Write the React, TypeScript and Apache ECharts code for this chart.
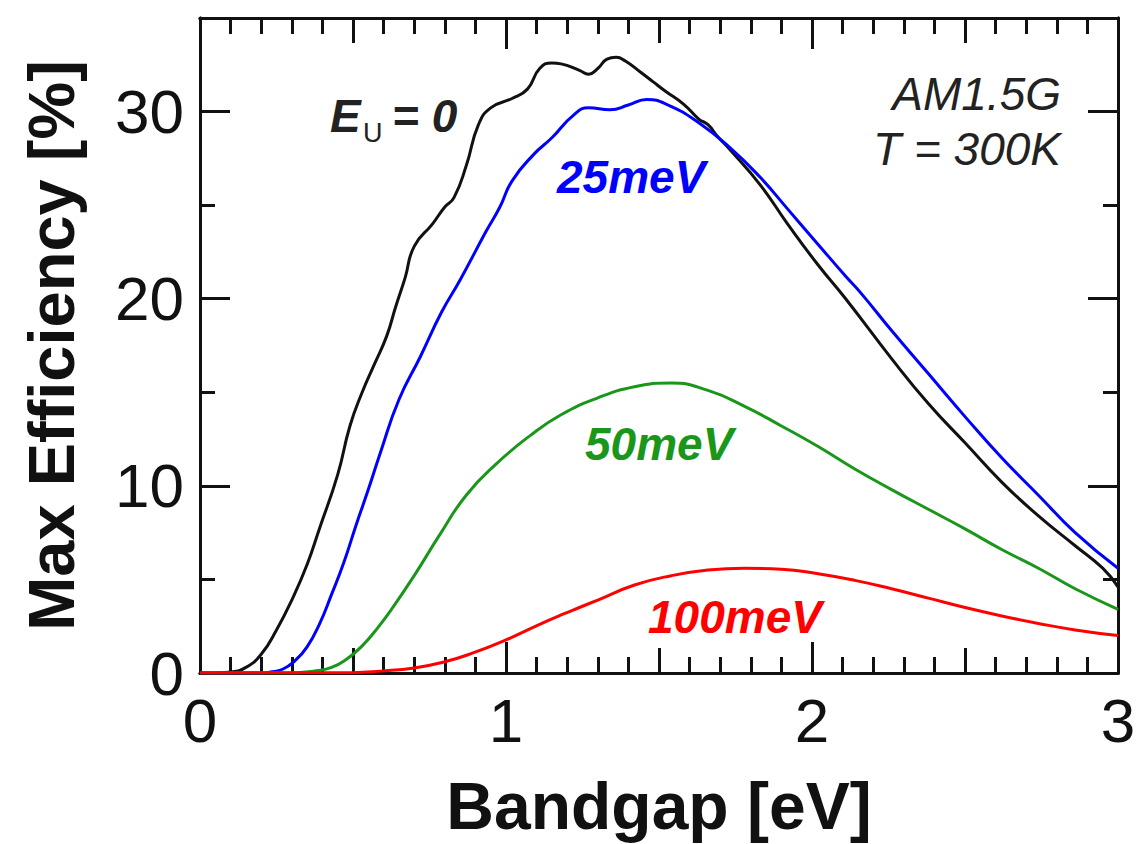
import React, { useEffect, useRef } from "react";
import * as echarts from "echarts";

// Bandgap [eV] and max efficiency [%] for each Urbach energy
const eu0Bandgap = [0, 0.05, 0.1, 0.15, 0.2, 0.25, 0.3, 0.35, 0.39, 0.45, 0.49, 0.53, 0.57, 0.61, 0.64, 0.67, 0.7, 0.76, 0.8, 0.83, 0.87, 0.91, 0.95, 1.02, 1.07, 1.11, 1.15, 1.18, 1.24, 1.27, 1.3, 1.33, 1.36, 1.39, 1.44, 1.48, 1.52, 1.58, 1.63, 1.66, 1.69, 1.73, 1.83, 1.92, 2.02, 2.11, 2.26, 2.38, 2.5, 2.62, 2.74, 2.86, 2.95, 3.0];
const eu0Eff = [0, 0, 0.05, 0.3, 1.0, 2.3, 3.9, 5.8, 7.7, 10.6, 13.2, 15.0, 16.5, 18.0, 19.6, 21.1, 22.8, 24.0, 24.9, 25.4, 27.1, 29.3, 30.2, 30.7, 31.2, 32.3, 32.6, 32.55, 32.2, 32.0, 32.3, 32.8, 32.9, 32.7, 32.1, 31.6, 31.1, 30.4, 29.6, 29.3, 28.7, 28.0, 26.1, 24.0, 21.8, 20.0, 16.8, 14.4, 12.3, 10.2, 8.4, 6.8, 5.6, 4.6];

const eu25Bandgap = [0, 0.2, 0.23, 0.27, 0.31, 0.35, 0.39, 0.43, 0.47, 0.51, 0.55, 0.59, 0.65, 0.72, 0.79, 0.85, 0.935, 0.98, 1.02, 1.09, 1.15, 1.22, 1.27, 1.34, 1.4, 1.46, 1.53, 1.63, 1.73, 1.83, 1.92, 2.02, 2.11, 2.16, 2.26, 2.38, 2.5, 2.62, 2.74, 2.86, 3.0];
const eu25Eff = [0, 0, 0.05, 0.2, 0.65, 1.4, 2.6, 4.2, 5.9, 7.9, 9.8, 11.8, 14.6, 16.9, 19.3, 21.0, 23.6, 24.9, 26.3, 27.7, 28.6, 29.8, 30.2, 30.1, 30.35, 30.65, 30.35, 29.4, 28.1, 26.5, 24.8, 22.9, 21.2, 20.3, 18.3, 16.0, 13.7, 11.5, 9.5, 7.5, 5.6];

const eu50Bandgap = [0, 0.3, 0.37, 0.43, 0.48, 0.53, 0.58, 0.63, 0.7, 0.78, 0.87, 0.97, 1.08, 1.18, 1.3, 1.42, 1.54, 1.66, 1.78, 1.9, 2.02, 2.14, 2.26, 2.38, 2.5, 2.62, 2.74, 2.86, 3.0];
const eu50Eff = [0, 0, 0.1, 0.3, 0.75, 1.45, 2.4, 3.5, 5.2, 7.3, 9.5, 11.2, 12.7, 13.8, 14.7, 15.3, 15.5, 15.1, 14.25, 13.2, 12.1, 10.9, 9.8, 8.75, 7.7, 6.6, 5.6, 4.5, 3.4];

const eu100Bandgap = [0, 0.5, 0.59, 0.7, 0.8, 0.89, 1.0, 1.11, 1.18, 1.24, 1.3, 1.42, 1.54, 1.66, 1.78, 1.9, 2.02, 2.14, 2.26, 2.38, 2.5, 2.62, 2.74, 2.86, 3.0];
const eu100Eff = [0, 0.02, 0.1, 0.27, 0.6, 1.06, 1.77, 2.6, 3.1, 3.5, 3.9, 4.7, 5.2, 5.5, 5.6, 5.55, 5.3, 4.95, 4.5, 4.0, 3.5, 3.05, 2.65, 2.3, 2.0];

const xTickLabels = ["0", "1", "2", "3"];
const yTickLabels = ["0", "10", "20", "30"];

const FONT = "'Liberation Sans', Arial, Helvetica, sans-serif";
const INK = "#111111";
const COLORS = { eu0: "#111111", eu25: "#0000ff", eu50: "#1a961a", eu100: "#ff0000" };

const zip = (xs: number[], ys: number[]) => xs.map((x, i) => [x, ys[i]]);

function xAxisDef(position: "bottom" | "top", interval: number, tickLen: number, labels: boolean, minor: boolean) {
  return {
    type: "value",
    position,
    min: 0,
    max: 3,
    interval,
    axisLine: { show: true, onZero: false, lineStyle: { color: INK, width: 3 } },
    axisTick: { show: true, inside: true, length: tickLen, lineStyle: { color: INK, width: 3 } },
    minorTick: { show: minor, splitNumber: 10, length: 16, lineStyle: { color: INK, width: 3 } },
    splitLine: { show: false },
    minorSplitLine: { show: false },
    axisLabel: {
      show: labels,
      margin: 16,
      fontSize: 62,
      fontFamily: FONT,
      color: INK,
      formatter: (v: number) => (Number.isInteger(v) ? xTickLabels[v] ?? "" : ""),
    },
  };
}

function yAxisDef(position: "left" | "right", interval: number, tickLen: number, labels: boolean) {
  return {
    type: "value",
    position,
    min: 0,
    max: 35,
    interval,
    axisLine: { show: true, onZero: false, lineStyle: { color: INK, width: 3 } },
    axisTick: { show: true, inside: true, length: tickLen, lineStyle: { color: INK, width: 3 } },
    splitLine: { show: false },
    axisLabel: {
      show: labels,
      margin: 16,
      fontSize: 62,
      fontFamily: FONT,
      color: INK,
      formatter: (v: number) => (v % 10 === 0 ? yTickLabels[v / 10] ?? "" : ""),
    },
  };
}

function lineSeries(name: string, data: number[][], color: string) {
  return {
    name,
    type: "line",
    xAxisIndex: 0,
    yAxisIndex: 0,
    data,
    smooth: 0.5,
    showSymbol: false,
    symbol: "none",
    lineStyle: { color, width: 3 },
    itemStyle: { color },
  };
}

function label(text: string, x: number, y: number, color: string, opts: any = {}) {
  return {
    type: "text",
    x,
    y,
    style: {
      text,
      fill: color,
      fontFamily: FONT,
      fontSize: opts.fontSize ?? 46,
      fontWeight: opts.fontWeight ?? "bold",
      fontStyle: opts.fontStyle ?? "italic",
      align: opts.align ?? "left",
      verticalAlign: "middle",
    },
    z: 100,
  };
}

export default function App() {
  const ref = useRef<HTMLDivElement>(null);

  useEffect(() => {
    if (!ref.current) return;
    const chart = echarts.init(ref.current, undefined, { renderer: "svg" });
    const yAxes: any[] = [yAxisDef("left", 10, 30, true), yAxisDef("left", 5, 15, false), yAxisDef("right", 10, 30, false), yAxisDef("right", 5, 15, false)];
    yAxes[0].name = "Max Efficiency [%]";
    yAxes[0].nameLocation = "middle";
    yAxes[0].nameRotate = 90;
    yAxes[0].nameGap = 116;
    yAxes[0].nameTextStyle = { fontSize: 65, fontWeight: "bold", fontFamily: FONT, color: INK };

    const xAxes: any[] = [xAxisDef("bottom", 1, 31, true, true), xAxisDef("bottom", 0.5, 25, false, false), xAxisDef("top", 1, 31, false, true), xAxisDef("top", 0.5, 25, false, false)];
    xAxes[0].name = "Bandgap [eV]";
    xAxes[0].nameLocation = "middle";
    xAxes[0].nameGap = 100;
    xAxes[0].nameTextStyle = { fontSize: 66, fontWeight: "bold", fontFamily: FONT, color: INK };

    chart.setOption({
      animation: false,
      backgroundColor: "#ffffff",
      grid: { left: 200, right: 22, top: 18, bottom: 166, containLabel: false },
      xAxis: xAxes,
      yAxis: yAxes,
      series: [
        lineSeries("E_U = 0", zip(eu0Bandgap, eu0Eff), COLORS.eu0),
        lineSeries("25meV", zip(eu25Bandgap, eu25Eff), COLORS.eu25),
        lineSeries("50meV", zip(eu50Bandgap, eu50Eff), COLORS.eu50),
        lineSeries("100meV", zip(eu100Bandgap, eu100Eff), COLORS.eu100),
      ],
      graphic: [
        label("E", 330, 116, "#222222"),
        label("U", 363, 133, "#222222", { fontSize: 27, fontWeight: "normal", fontStyle: "normal" }),
        label("= 0", 392, 116, "#222222"),
        label("25meV", 557, 177, COLORS.eu25),
        label("50meV", 585, 444, COLORS.eu50),
        label("100meV", 648, 617, COLORS.eu100),
        label("AM1.5G", 1061, 94, "#222222", { fontWeight: "normal", align: "right" }),
        label("T = 300K", 1061, 149, "#222222", { fontWeight: "normal", align: "right" }),
      ],
    });
    return () => chart.dispose();
  }, []);

  return <div ref={ref} style={{ position: "absolute", left: 0, top: 0, width: 1140, height: 844 }} />;
}
